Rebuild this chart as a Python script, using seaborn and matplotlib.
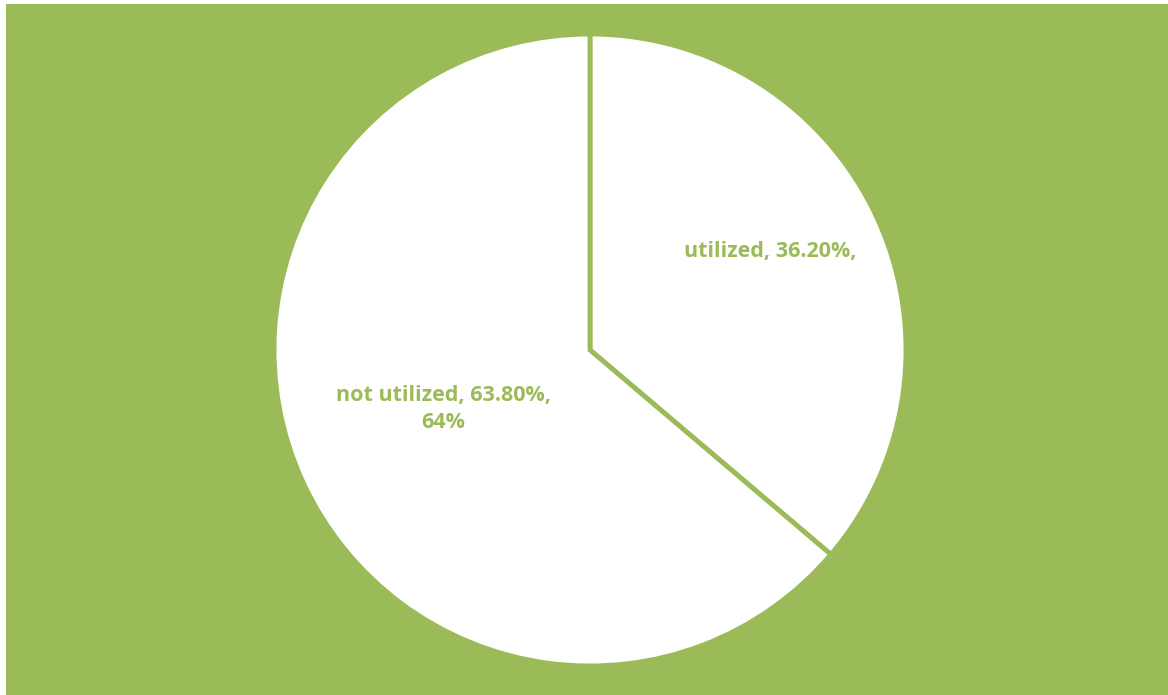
import numpy as np
import matplotlib
matplotlib.use("Agg")
import matplotlib.pyplot as plt
import seaborn as sns
from matplotlib.patches import Rectangle

categories = ["utilized", "not utilized"]
values = [36.20, 63.80]
labels = ["utilized, 36.20%,", "not utilized, 63.80%,\n64%"]

GREEN = "#9BBB59"

sns.set_theme(style="white")
plt.rcParams['font.family'] = ['Open Sans', 'DejaVu Sans']

W, H = 1168, 695
fig = plt.figure(figsize=(W / 100, H / 100), dpi=100)
fig.patch.set_facecolor("white")
fig.add_artist(Rectangle((6 / W, 0), 1 - 6 / W, (H - 4) / H, transform=fig.transFigure,
                         facecolor=GREEN, edgecolor="none", zorder=0))

cx, cy, r = 590, H - 350, 316
ax = fig.add_axes([(cx - r) / W, (cy - r) / H, 2 * r / W, 2 * r / H])
ax.patch.set_alpha(0)

wedges, _ = ax.pie(values, startangle=90, counterclock=False, radius=1,
                   colors=["white", "white"],
                   wedgeprops=dict(edgecolor=GREEN, linewidth=3.5))
for w in wedges:
    w.set_clip_on(False)
ax.set_xlim(-1, 1)
ax.set_ylim(-1, 1)
ax.set_aspect("equal")
ax.axis("off")

dists = [0.65, 0.50]
offs = [3.9, -3.0]
for w, lab, d, o in zip(wedges, labels, dists, offs):
    ang = np.deg2rad((w.theta1 + w.theta2) / 2 + o)
    ax.text(d * np.cos(ang), d * np.sin(ang), lab, ha="center", va="center",
            color=GREEN, fontsize=15.5, fontweight="bold", linespacing=1.35)

fig.savefig("out.png", dpi=100, facecolor=fig.get_facecolor())
